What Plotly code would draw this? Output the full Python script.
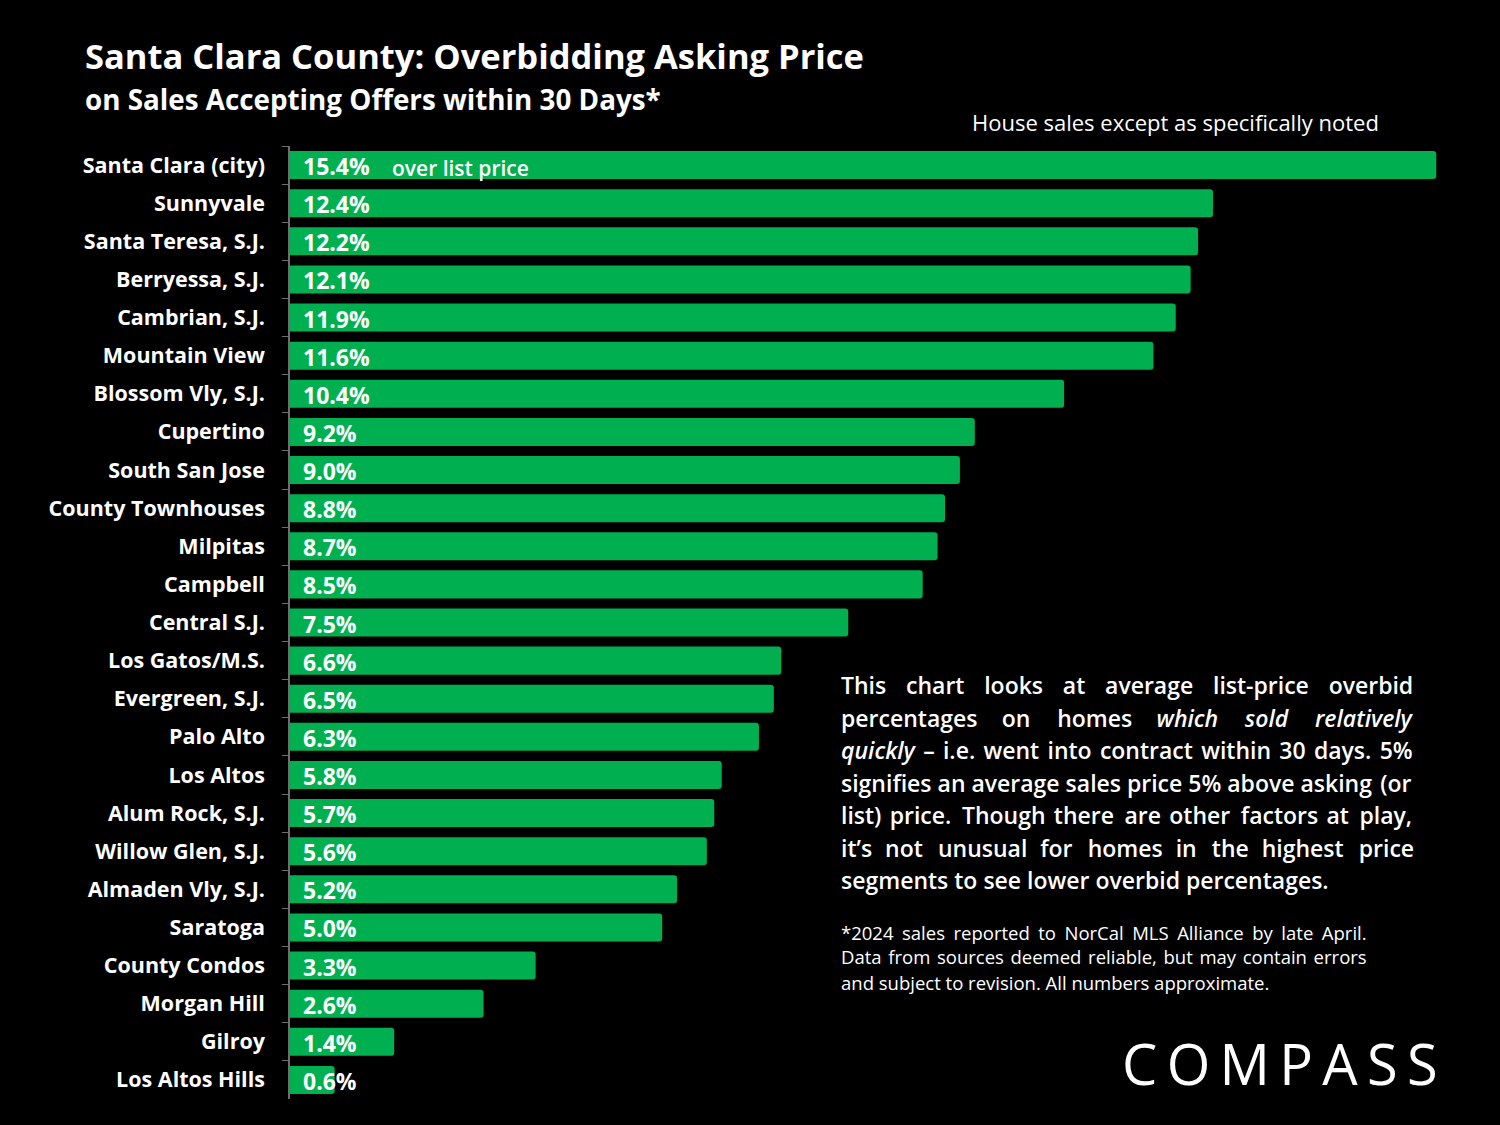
import plotly.graph_objects as go

categories = ["Santa Clara (city)", "Sunnyvale", "Santa Teresa, S.J.", "Berryessa, S.J.",
              "Cambrian, S.J.", "Mountain View", "Blossom Vly, S.J.", "Cupertino",
              "South San Jose", "County Townhouses", "Milpitas", "Campbell", "Central S.J.",
              "Los Gatos/M.S.", "Evergreen, S.J.", "Palo Alto", "Los Altos", "Alum Rock, S.J.",
              "Willow Glen, S.J.", "Almaden Vly, S.J.", "Saratoga", "County Condos",
              "Morgan Hill", "Gilroy", "Los Altos Hills"]
values = [15.4, 12.4, 12.2, 12.1, 11.9, 11.6, 10.4, 9.2, 9.0, 8.8, 8.7, 8.5, 7.5,
          6.6, 6.5, 6.3, 5.8, 5.7, 5.6, 5.2, 5.0, 3.3, 2.6, 1.4, 0.6]

para_lines = ["This chart looks at average list-price overbid",
              "percentages on homes <i>which sold relatively</i>",
              "<i>quickly</i> – i.e. went into contract within 30 days. 5%",
              "signifies an average sales price 5% above asking (or",
              "list) price. Though there are other factors at play,",
              "it’s not unusual for homes in the highest price",
              "segments to see lower overbid percentages."]
para_pad = [36, 43, 9, 1, 12, 28, 0]   # total hair spaces per line (justification)

foot_lines = ["*2024 sales reported to NorCal MLS Alliance by late April.",
              "Data from sources deemed reliable, but may contain errors",
              "and subject to revision. All numbers approximate."]
foot_pad = [18, 8, 0]

FONT = "Open Sans"
GREEN = "#00B050"
W, H = 1500, 1125
ML, MR, MT, MB = 290, 60, 146, 26
pw, ph = W - ML - MR, H - MT - MB
HAIR = "\u200a"
SIXTH = "\u2006"


def justify(line, total):
    words = line.split(" ")
    gaps = len(words) - 1
    if gaps == 0:
        return line
    out = words[0]
    for i, w in enumerate(words[1:]):
        n = total * (i + 1) // gaps - total * i // gaps
        out += " " + HAIR * n + w
    return out


fig = go.Figure()
fig.add_trace(go.Bar(
    x=values, y=categories, orientation="h",
    marker=dict(color=GREEN, line=dict(width=0), cornerradius=3),
    hoverinfo="x+y",
))

ann = []
for c, v in zip(categories, values):
    ann.append(dict(
        x=0, y=c, xref="x", yref="y", text=f"<b>{v:.1f}%</b>",
        showarrow=False, xanchor="left", yanchor="middle", xshift=11, yshift=-1,
        font=dict(family=FONT, size=23, color="white"),
    ))
ann.append(dict(
    x=1.35, y=categories[0], xref="x", yref="y", text="over list price",
    showarrow=False, xanchor="left", yanchor="middle", yshift=-3,
    font=dict(family=FONT, size=21, color="white", weight=600),
))


def px(x, y, text, size, xanchor="left", yanchor="middle", weight="normal", align="left"):
    return dict(x=(x - ML) / pw, y=(H - MB - y) / ph, xref="paper", yref="paper", text=text,
                showarrow=False, xanchor=xanchor, yanchor=yanchor, align=align,
                font=dict(family=FONT, size=size, color="white", weight=weight))


for i, (l, n) in enumerate(zip(para_lines, para_pad)):
    ann.append(px(839, 685 + i * 32.5, justify(l, n), 23, weight=600))
for i, (l, n) in enumerate(zip(foot_lines, foot_pad)):
    ann.append(px(839, 932 + i * 25, justify(l, n), 18.5, weight=500))

ann += [
    px(83, 55, "Santa Clara County: Overbidding Asking Price", 34.5, weight="bold"),
    px(83, 99, "on Sales Accepting Offers within 30 Days*", 27.8, weight="bold"),
    px(970, 122, "House sales except as specifically noted", 22, weight=500),
    px(1440, 1063, SIXTH.join("COMPASS"), 56, xanchor="right", weight=500),
]

fig.update_layout(
    width=W, height=H,
    paper_bgcolor="black", plot_bgcolor="black",
    margin=dict(l=ML, r=MR, t=MT, b=MB),
    bargap=0.265,
    showlegend=False,
    font=dict(family=FONT, color="white"),
    xaxis=dict(range=[0, 15.45], visible=False, fixedrange=True),
    yaxis=dict(
        autorange="reversed", showline=True, linecolor="#6e6e6e", linewidth=1.5,
        ticks="outside", tickson="boundaries", ticklen=6, tickcolor="#6e6e6e",
        tickfont=dict(family=FONT, size=21.5, color="white", weight="bold"),
        ticklabelstandoff=19, showgrid=False, zeroline=False,
    ),
    annotations=ann,
)

fig.write_html("out.html", config={"displayModeBar": False},
               post_script="document.body.style.margin='0';document.body.style.padding='0';document.body.style.background='black';")
